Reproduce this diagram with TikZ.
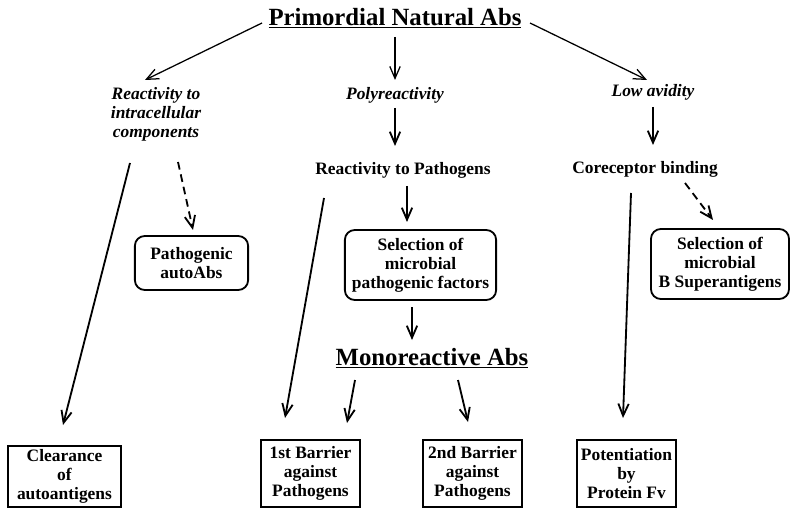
\documentclass[tikz,border=0pt]{standalone}
\usepackage{fontspec}
\setmainfont{Liberation Serif}
\usetikzlibrary{arrows.meta,positioning}

\begin{document}
\begin{tikzpicture}[x=0.025cm,y=-0.025cm,
  every node/.style={align=center,font=\bfseries\fontsize{12.4}{13.6}\selectfont},%
  hd/.style={font=\bfseries\fontsize{17.6}{20}\selectfont},%
  it/.style={font=\bfseries\itshape\fontsize{12.4}{13.6}\selectfont},%
  bx/.style={draw,line width=1.3pt,inner sep=2pt},%
  rb/.style={bx,rounded corners=7pt},%
  e/.style={-{Straight Barb[length=3mm,width=2.6mm]},line width=1.3pt},%
  t/.style={e,line width=0.9pt},%
  d/.style={e,dash pattern=on 5.5pt off 3.5pt},%
  ]
  \useasboundingbox (0,0) rectangle (800,517);
  % top level
  \node (pna) [hd] at (395,18) {\underline{Primordial Natural Abs}};
  \node (rit) [it] at (156,114) {Reactivity to\\intracellular\\components};
  \node (poly) [it] at (395,95) {Polyreactivity};
  \node (low) [it] at (653,92) {Low avidity};
  % middle level
  \node (rtp) at (403,170) {Reactivity to Pathogens};
  \node (cor) at (645,169) {Coreceptor binding};
  \node (pau) [rb,minimum width=2.83cm,minimum height=1.35cm] at (191.5,263) {Pathogenic\\autoAbs};
  \node (spf) [rb,minimum width=3.78cm,minimum height=1.75cm] at (420.5,265) {Selection of\\microbial\\pathogenic factors};
  \node (ssa) [rb,minimum width=3.45cm,minimum height=1.75cm] at (720,264) {Selection of\\microbial\\B Superantigens};
  \node (mono) [hd] at (432,358) {\underline{Monoreactive Abs}};
  % bottom boxes
  \node (cla) [bx,minimum width=2.83cm,minimum height=1.53cm] at (64.5,476.5) {Clearance\\of\\autoantigens};
  \node (b1) [bx,minimum width=2.48cm,minimum height=1.68cm] at (310.5,473.5) {1st Barrier\\against\\Pathogens};
  \node (b2) [bx,minimum width=2.48cm,minimum height=1.68cm] at (472.5,473.5) {2nd Barrier\\against\\Pathogens};
  \node (pot) [bx,minimum width=2.48cm,minimum height=1.68cm] at (626.5,473.5) {Potentiation\\by\\Protein Fv};
  % arrows
  \draw [t] ([shift={(-133,5)}]pna.center) -- ([shift={(-11,-34)}]rit.center);
  \draw [t] ([shift={(0,19)}]pna.center) -- ([shift={(0,-15)}]poly.center);
  \draw [t] ([shift={(135,5)}]pna.center) -- ([shift={(-6,-12)}]low.center);
  \draw [e] ([shift={(0,13)}]poly.center) -- ([shift={(-8,-24)}]rtp.center);
  \draw [e] ([shift={(0,15)}]low.center) -- ([shift={(8,-24)}]cor.center);
  \draw [e] ([shift={(-26,49)}]rit.center) -- ([shift={(-1.5,-51.5)}]cla.center);
  \draw [d] ([shift={(22,48)}]rit.center) -- ([shift={(1.5,-33)}]pau.center);
  \draw [e] ([shift={(-79,28)}]rtp.center) -- ([shift={(-25.5,-55.5)}]b1.center);
  \draw [e] ([shift={(4,16)}]rtp.center) -- ([shift={(-13.5,-43)}]spf.center);
  \draw [e] ([shift={(-8.5,42)}]spf.center) -- ([shift={(-20,-18)}]mono.center);
  \draw [e] ([shift={(-77,22)}]mono.center) -- ([shift={(36.5,-50.5)}]b1.center);
  \draw [e] ([shift={(26,22)}]mono.center) -- ([shift={(-4.5,-51.5)}]b2.center);
  \draw [d] ([shift={(40,14)}]cor.center) -- ([shift={(-7,-44)}]ssa.center);
  \draw [e] ([shift={(-14,24)}]cor.center) -- ([shift={(-3.5,-55.5)}]pot.center);
\end{tikzpicture}
\end{document}
